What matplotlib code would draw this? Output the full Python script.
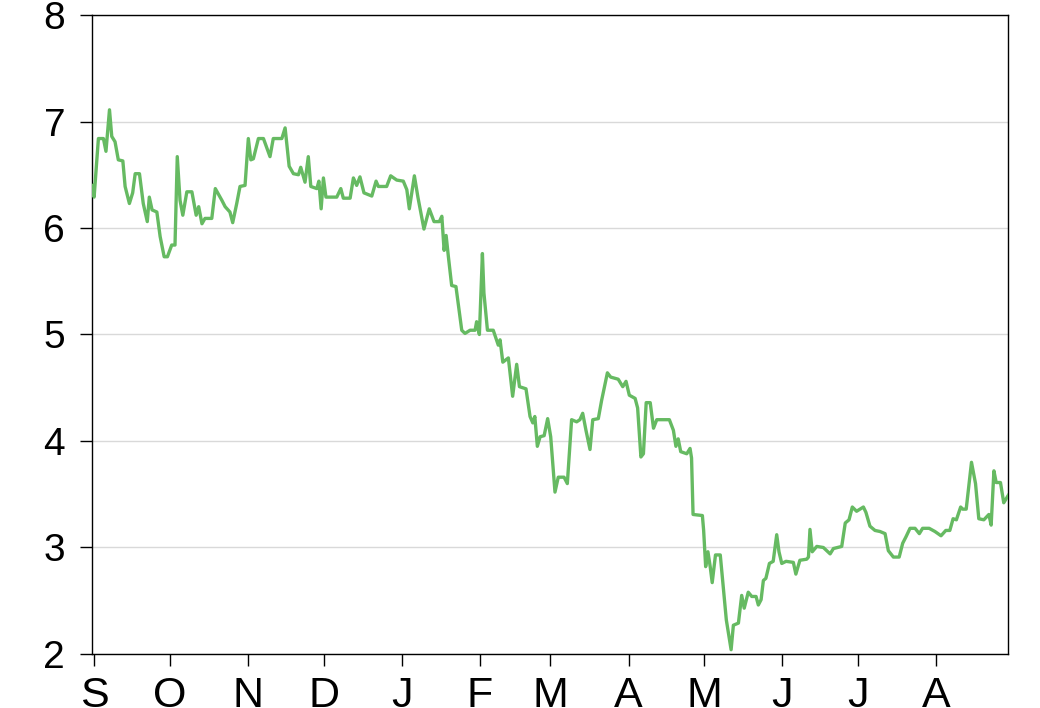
import pandas as pd
import matplotlib
matplotlib.use('Agg')
import matplotlib.pyplot as plt
import matplotlib.dates as mdates
from matplotlib.ticker import FuncFormatter

# days after 1 Sep
day_offset = [
    -0.8, -0.1, 1.6, 3.6, 4.6, 6.0, 6.9, 8.2, 9.5, 11.3, 12.2, 13.9, 15.2, 16.2, 17.9,
    19.4, 21.0, 21.8, 22.9, 24.8, 26.1, 27.7, 29.0, 30.7, 32.0, 32.9, 34.0, 35.1, 36.7,
    38.7, 40.4, 41.4, 42.7, 43.9, 46.6, 48.0, 50.6, 51.9, 53.8, 54.9, 56.5, 57.8, 59.8,
    61.1, 62.1, 63.1, 65.1, 67.1, 69.7, 71.0, 74.4, 75.7, 77.3, 79.0, 81.0, 81.9, 83.6,
    84.9, 85.9, 88.3, 89.1, 90.0, 90.9, 91.9, 96.2, 97.8, 98.8, 101.5, 102.8, 104.1,
    105.4, 107.0, 110.1, 111.8, 112.7, 116.0, 117.6, 120.0, 122.6, 124.0, 125.0, 127.0,
    128.4, 130.8, 132.9, 134.8, 136.9, 137.9, 138.8, 139.6, 140.5, 141.8, 143.5, 145.8,
    147.1, 149.1, 151.1, 151.7, 152.8, 154.0, 154.6, 156.0, 158.3, 160.3, 161.0, 162.1,
    164.3, 166.0, 167.6, 168.7, 171.3, 172.9, 174.0, 174.8, 175.8, 176.9, 178.5, 179.9,
    181.1, 182.8, 184.1, 186.4, 187.7, 189.4, 191.4, 192.7, 193.8, 195.1, 196.7, 197.8,
    200.0, 201.3, 203.6, 204.9, 207.9, 209.7, 211.0, 212.3, 214.6, 215.6, 216.9, 217.9,
    219.0, 220.6, 221.9, 223.2, 228.2, 229.8, 230.8, 231.7, 232.7, 235.1, 236.4, 237.0,
    237.6, 241.3, 241.8, 242.6, 243.5, 244.4, 245.2, 246.5, 248.4, 250.8, 252.7, 253.6,
    255.6, 256.9, 257.9, 259.5, 260.9, 262.6, 263.5, 264.6, 265.5, 266.5, 267.9, 269.4,
    270.8, 271.7, 272.8, 274.5, 277.4, 278.4, 280.0, 282.7, 283.4, 284.0, 284.9, 286.7,
    289.3, 292.0, 293.3, 296.6, 298.0, 299.5, 300.8, 302.5, 305.2, 306.2, 307.8, 309.8,
    311.8, 313.8, 315.1, 317.1, 319.4, 320.8, 322.1, 323.7, 325.7, 327.4, 328.7, 331.3,
    333.6, 336.0, 337.9, 339.5, 340.8, 342.1, 343.8, 344.6, 346.0, 348.1, 349.7, 351.0,
    353.0, 355.0, 355.9, 357.0, 357.9, 359.6, 360.9, 362.7,
]
price = [
    6.40, 6.29, 6.84, 6.84, 6.72, 7.11, 6.86, 6.81, 6.64, 6.63, 6.39, 6.23, 6.33, 6.51, 6.51,
    6.23, 6.06, 6.29, 6.17, 6.15, 5.92, 5.73, 5.73, 5.84, 5.84, 6.67, 6.26, 6.12, 6.34,
    6.34, 6.12, 6.20, 6.04, 6.09, 6.09, 6.37, 6.26, 6.20, 6.15, 6.05, 6.23, 6.39, 6.40,
    6.84, 6.64, 6.65, 6.84, 6.84, 6.67, 6.84, 6.84, 6.94, 6.58, 6.51, 6.50, 6.57, 6.43,
    6.67, 6.39, 6.37, 6.44, 6.18, 6.47, 6.29, 6.29, 6.37, 6.28, 6.28, 6.47, 6.40,
    6.48, 6.33, 6.30, 6.44, 6.39, 6.39, 6.49, 6.45, 6.44, 6.36, 6.18, 6.49,
    6.29, 5.99, 6.18, 6.06, 6.06, 6.11, 5.79, 5.93, 5.73, 5.46, 5.45, 5.04,
    5.01, 5.04, 5.04, 5.12, 5.00, 5.76, 5.39, 5.04, 5.04, 4.90, 4.95, 4.74,
    4.78, 4.42, 4.72, 4.51, 4.49, 4.23, 4.17, 4.23, 3.95, 4.04, 4.05, 4.21,
    4.04, 3.52, 3.66, 3.66, 3.60, 4.20, 4.18, 4.20, 4.26, 4.10, 3.92, 4.20,
    4.21, 4.38, 4.64, 4.60, 4.58, 4.51, 4.56, 4.43, 4.40, 4.31, 3.85, 3.88,
    4.36, 4.36, 4.12, 4.20, 4.20, 4.10, 3.95, 4.02, 3.90, 3.88, 3.93, 3.84,
    3.31, 3.30, 3.16, 2.82, 2.96, 2.82, 2.67, 2.93, 2.93, 2.32, 2.04, 2.27,
    2.29, 2.55, 2.43, 2.58, 2.54, 2.54, 2.46, 2.51, 2.69, 2.71, 2.85, 2.87,
    3.12, 2.96, 2.85, 2.87, 2.86, 2.75, 2.88, 2.89, 2.91, 3.17, 2.96, 3.01,
    3.00, 2.94, 2.99, 3.01, 3.23, 3.26, 3.38, 3.34, 3.38, 3.33, 3.20, 3.16,
    3.15, 3.13, 2.97, 2.91, 2.91, 3.04, 3.10, 3.18, 3.18, 3.13, 3.18, 3.18,
    3.15, 3.11, 3.16, 3.16, 3.27, 3.26, 3.38, 3.36, 3.36, 3.80, 3.60, 3.27,
    3.26, 3.31, 3.21, 3.72, 3.61, 3.61, 3.42, 3.49,
]
y_ticks = [2, 3, 4, 5, 6, 7, 8]

dates = pd.Timestamp('2018-09-01') + pd.to_timedelta(day_offset, unit='D')

plt.rcParams['font.family'] = ['Liberation Sans', 'DejaVu Sans']
fig = plt.figure(figsize=(10.4, 7.08), dpi=100)
ax = fig.add_axes([0.0888, 0.0763, 0.8807, 0.9025])

ax.plot(dates, price, color='#66ba62', lw=2.4, zorder=3)

ax.set_xlim(dates[0], dates[-1])
ax.set_ylim(2, 8)
ax.set_yticks(y_ticks)
ax.yaxis.grid(True, color='#d9d9d9', lw=1)
ax.set_axisbelow(True)

ax.xaxis.set_major_locator(mdates.MonthLocator())
ax.xaxis.set_major_formatter(FuncFormatter(lambda x, pos: mdates.num2date(x).strftime('%b')[0]))

ax.tick_params(axis='both', direction='out', length=8.6, width=1, colors='black')
ax.tick_params(axis='y', pad=11, labelsize=28)
ax.tick_params(axis='x', pad=7, labelsize=31)
for s in ax.spines.values():
    s.set_linewidth(1)
    s.set_color('black')

fig.savefig('out.png', dpi=100)
